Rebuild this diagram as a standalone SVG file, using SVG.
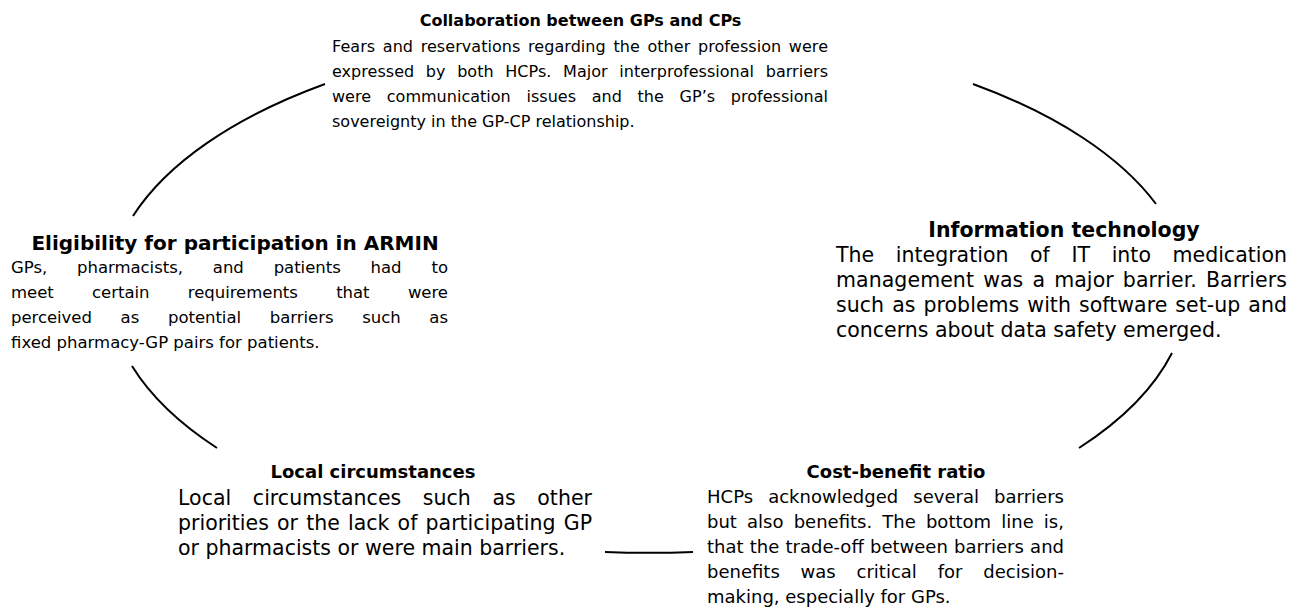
<svg xmlns="http://www.w3.org/2000/svg" width="1298" height="609" viewBox="0 0 1298 609">
  <style>
    .t { font-family: "DejaVu Sans", Verdana, "Liberation Sans", sans-serif; fill: #000; }
    .h { font-weight: bold; text-anchor: middle; }
    .arc { fill: none; stroke: #000; stroke-width: 2; stroke-linecap: butt; }
  </style>
  <rect width="1298" height="609" fill="#fff"/>

  <!-- cycle: visible pieces of one large ellipse running between the text blocks -->
  <g id="connectors">
    <path class="arc" d="M133,216 A540,262.5 0 0 1 325,84"/>
    <path class="arc" d="M973,84 A540,262.5 0 0 1 1156,204"/>
    <path class="arc" d="M1172,353 A540,262.5 0 0 1 1079,448"/>
    <path class="arc" d="M693,552 A540,262.5 0 0 1 605,552"/>
    <path class="arc" d="M217,448 A540,262.5 0 0 1 132,366"/>
  </g>

  <g id="collaboration" class="t" font-size="16">
    <text class="h" x="580.5" y="26">Collaboration between GPs and CPs</text>
    <text x="332" y="52" word-spacing="2.5" textLength="496" lengthAdjust="spacing">Fears and reservations regarding the other profession were</text>
    <text x="332" y="77" word-spacing="6.5" textLength="496" lengthAdjust="spacing">expressed by both HCPs. Major interprofessional barriers</text>
    <text x="332" y="102" word-spacing="10.6" textLength="496" lengthAdjust="spacing">were communication issues and the GP’s professional</text>
    <text x="332" y="127">sovereignty in the GP-CP relationship.</text>
  </g>

  <g id="information-technology" class="t" font-size="20.5">
    <text class="h" x="1064" y="237">Information technology</text>
    <text x="836" y="262" word-spacing="15.1" textLength="451" lengthAdjust="spacing">The integration of IT into medication</text>
    <text x="836" y="287" word-spacing="2.5" textLength="451" lengthAdjust="spacing">management was a major barrier. Barriers</text>
    <text x="836" y="312" word-spacing="1.5" textLength="451" lengthAdjust="spacing">such as problems with software set-up and</text>
    <text x="836" y="337">concerns about data safety emerged.</text>
  </g>

  <g id="cost-benefit" class="t" font-size="18">
    <text class="h" x="896" y="478">Cost-benefit ratio</text>
    <text x="707" y="503" word-spacing="9.3" textLength="357" lengthAdjust="spacing">HCPs acknowledged several barriers</text>
    <text x="707" y="528" word-spacing="4.4" textLength="357" lengthAdjust="spacing">but also benefits. The bottom line is,</text>
    <text x="707" y="553" word-spacing="0.5" textLength="357" lengthAdjust="spacing">that the trade-off between barriers and</text>
    <text x="707" y="578" word-spacing="15.1" textLength="357" lengthAdjust="spacing">benefits was critical for decision-</text>
    <text x="707" y="603">making, especially for GPs.</text>
  </g>

  <g id="local-circumstances" class="t" font-size="20.5">
    <text class="h" x="373" y="478" font-size="18">Local circumstances</text>
    <text x="178" y="505" word-spacing="15" textLength="414" lengthAdjust="spacing">Local circumstances such as other</text>
    <text x="178" y="530" word-spacing="1.7" textLength="414" lengthAdjust="spacing">priorities or the lack of participating GP</text>
    <text x="178" y="555">or pharmacists or were main barriers.</text>
  </g>

  <g id="eligibility" class="t" font-size="16.5">
    <text class="h" x="235" y="250" font-size="20">Eligibility for participation in ARMIN</text>
    <text x="11" y="273" word-spacing="24.7" textLength="437" lengthAdjust="spacing">GPs, pharmacists, and patients had to</text>
    <text x="11" y="298" word-spacing="33.1" textLength="437" lengthAdjust="spacing">meet certain requirements that were</text>
    <text x="11" y="323" word-spacing="23.5" textLength="437" lengthAdjust="spacing">perceived as potential barriers such as</text>
    <text x="11" y="348">fixed pharmacy-GP pairs for patients.</text>
  </g>
</svg>
